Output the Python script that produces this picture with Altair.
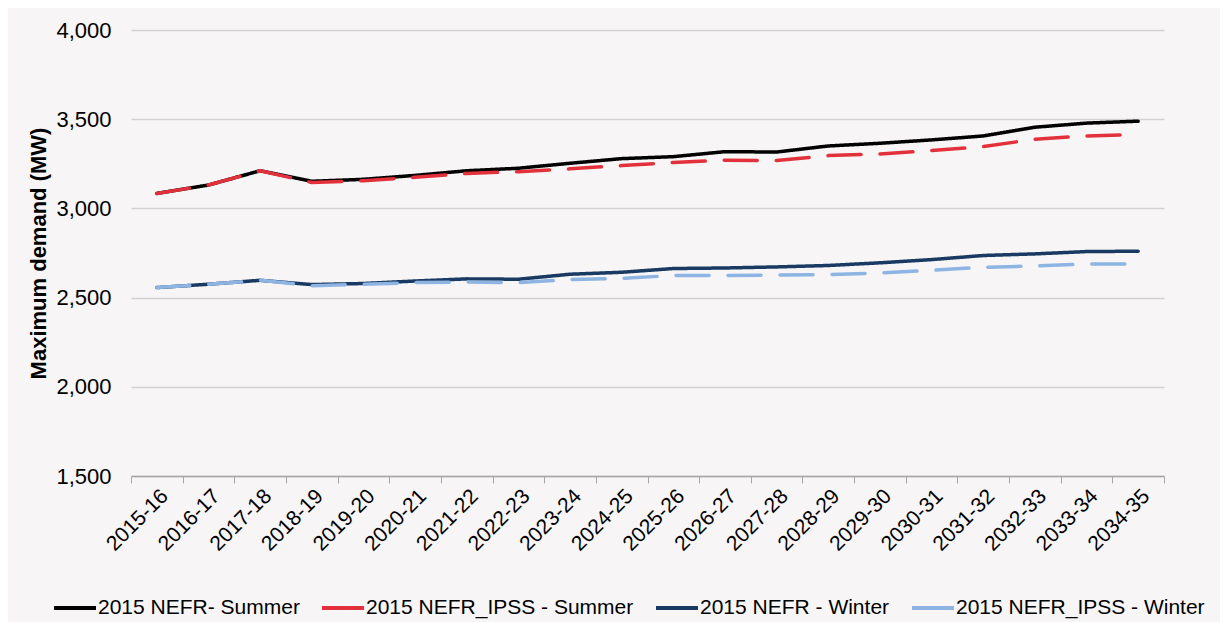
import altair as alt
import pandas as pd

years = ["2015-16", "2016-17", "2017-18", "2018-19", "2019-20", "2020-21", "2021-22",
         "2022-23", "2023-24", "2024-25", "2025-26", "2026-27", "2027-28", "2028-29",
         "2029-30", "2030-31", "2031-32", "2032-33", "2033-34", "2034-35"]

series_names = ["2015 NEFR- Summer", "2015 NEFR_IPSS - Summer",
                "2015 NEFR - Winter", "2015 NEFR_IPSS - Winter"]

nefr_summer = [3084, 3131, 3211, 3152, 3163, 3185, 3211, 3225, 3253, 3279,
               3290, 3318, 3316, 3350, 3365, 3384, 3406, 3455, 3478, 3489]
ipss_summer = [3084, 3131, 3211, 3145, 3155, 3174, 3196, 3206, 3222, 3240,
               3257, 3270, 3268, 3296, 3305, 3324, 3346, 3388, 3406, 3414]
nefr_winter = [2556, 2575, 2597, 2573, 2579, 2593, 2605, 2603, 2631, 2642,
               2663, 2666, 2672, 2680, 2695, 2713, 2736, 2745, 2758, 2760]
ipss_winter = [2556, 2575, 2597, 2567, 2575, 2584, 2588, 2584, 2601, 2608,
               2624, 2624, 2626, 2629, 2638, 2653, 2670, 2677, 2689, 2689]

colors = ["#000000", "#e2313b", "#193a62", "#8db4e2"]
dashed = ["solid", "dashed", "solid", "dashed"]

rows = []
for name, vals, d in zip(series_names, [nefr_summer, ipss_summer, nefr_winter, ipss_winter], dashed):
    for y, v in zip(years, vals):
        rows.append({"year": y, "value": v, "series": name, "dash": d})
df = pd.DataFrame(rows)

FONT = "Liberation Sans"

chart = alt.Chart(df).mark_line(strokeWidth=3.5, strokeCap="round", strokeJoin="round").encode(
    x=alt.X("year:N", sort=years, bandPosition=0.5, title=None,
            scale=alt.Scale(type="band", paddingInner=0, paddingOuter=0),
            axis=alt.Axis(labelAngle=-45, labelFontSize=21, labelFont=FONT, labelColor="#000000",
                          tickBand="extent", tickSize=7, tickColor="#a6a6a6", domainColor="#a6a6a6",
                          domainWidth=1.5, labelPadding=2, grid=False)),
    y=alt.Y("value:Q", title="Maximum demand (MW)",
            scale=alt.Scale(domain=[1500, 4000], nice=False, zero=False),
            axis=alt.Axis(values=[1500, 2000, 2500, 3000, 3500, 4000], format=",.0f",
                          labelFontSize=22, labelFont=FONT, labelColor="#000000",
                          labelPadding=20, ticks=False, domain=False,
                          gridColor="#d3d1d2", gridWidth=1.5,
                          titleFont=FONT, titleFontSize=22, titleFontWeight="bold",
                          titleColor="#000000", titlePadding=5)),
    color=alt.Color("series:N", sort=series_names,
                    scale=alt.Scale(domain=series_names, range=colors),
                    legend=alt.Legend(orient="none", legendX=-79, legendY=555,
                                      direction="horizontal", title=None,
                                      symbolType="stroke", symbolSize=1764,
                                      symbolStrokeWidth=4, labelFontSize=21,
                                      labelFont=FONT, labelColor="#000000",
                                      labelOffset=0, columnPadding=14, labelLimit=400)),
    strokeDash=alt.StrokeDash("dash:N", legend=None,
                              scale=alt.Scale(domain=["solid", "dashed"], range=[[1, 0], [33, 19]])),
    order=alt.Order("series:N"),
).properties(
    width=1033, height=446,
    background="#f7f5f6",
    padding={"left": 123, "top": 22, "right": 56, "bottom": 146},
    autosize=alt.AutoSizeParams(type="none"),
).configure_view(stroke=None)

chart.save("out.html", embed_options={"renderer": "svg", "actions": False})
